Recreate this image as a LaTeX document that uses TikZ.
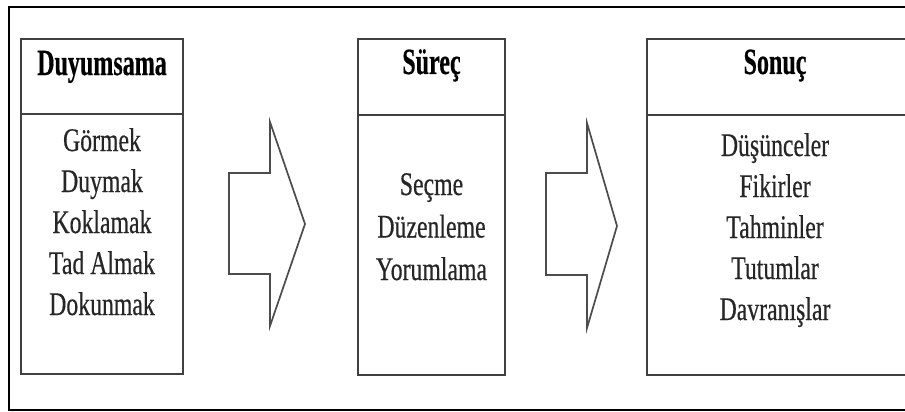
\documentclass[tikz,border=0pt]{standalone}
\usepackage{fontspec}
\setmainfont{Liberation Serif}
\newfontfamily\bodyfont[FakeStretch=0.72,FakeBold=0.4]{Liberation Serif}
\newfontfamily\headfont[FakeStretch=0.65,FakeBold=0.4]{Liberation Serif}
\begin{document}
\begin{tikzpicture}[x=1pt,y=-1pt,
  frame/.style={draw=black, line width=2pt},
  boxline/.style={draw=black!75, line width=2pt},
  blockarrow/.style={draw=black!70, line width=1.7pt, line join=miter},
  head/.style={font=\headfont\bfseries\fontsize{37}{40}\selectfont, text=black, inner sep=0, anchor=base},
  item/.style={font=\bodyfont\fontsize{33}{36}\selectfont, text=black!85, inner sep=0, anchor=base}]
\useasboundingbox (0,0) rectangle (905,412);
\fill[white] (0,0) rectangle (905,412);
% outer frame (cut off on the right)
\draw[frame] (906,7) -- (9,7) -- (9,410) -- (906,410);
% box 1
\draw[boxline] (21,39) rectangle (183,374);
\draw[boxline] (21,114) -- (183,114);
% box 2
\draw[boxline] (358,39) rectangle (505,375);
\draw[boxline] (358,115) -- (505,115);
% box 3 (cut off on the right)
\draw[boxline] (906,39) -- (647,39) -- (647,375) -- (906,375);
\draw[boxline] (647,115) -- (906,115);
% block arrows
\draw[blockarrow] (229,173) -- (270,173) -- (270,122) -- (305,224) -- (270,326) -- (270,274) -- (229,274) -- cycle;
\draw[blockarrow] (546,173) -- (587,173) -- (587,123) -- (617,226) -- (587,328) -- (587,275) -- (546,275) -- cycle;
% headers
\node[head] (h1) at (102,75) {Duyumsama};
\node[head] (h2) at (431.5,74) {Süreç};
\node[head] (h3) at (775,74) {Sonuç};
% column 1
\node[item] (a1) at (102,151) {Görmek};
\node[item] (a2) at (102,192) {Duymak};
\node[item] (a3) at (102,233) {Koklamak};
\node[item] (a4) at (102,274) {Tad Almak};
\node[item] (a5) at (102,315) {Dokunmak};
% column 2
\node[item] (b1) at (431.5,195) {Seçme};
\node[item] (b2) at (431.5,237.5) {Düzenleme};
\node[item] (b3) at (431.5,280) {Yorumlama};
% column 3
\node[item] (c1) at (775,156) {Düşünceler};
\node[item] (c2) at (775,197) {Fikirler};
\node[item] (c3) at (775,238) {Tahminler};
\node[item] (c4) at (775,279) {Tutumlar};
\node[item] (c5) at (775,320) {Davranışlar};
\end{tikzpicture}
\end{document}
